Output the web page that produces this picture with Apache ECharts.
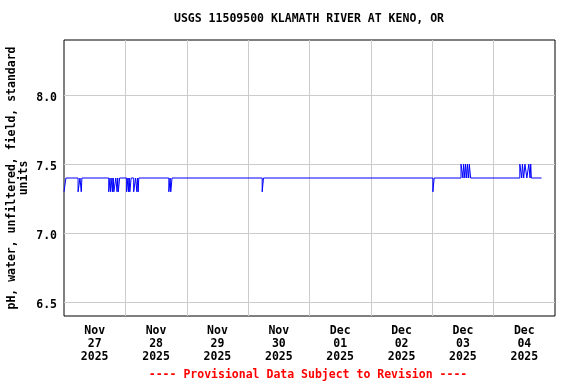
<!DOCTYPE html>
<html><head><meta charset="utf-8">
<script src="https://cdn.jsdelivr.net/npm/echarts@6/dist/echarts.min.js"></script>
<style>html,body{margin:0;padding:0;background:#fff}#c{width:576px;height:384px}</style>
</head><body><div id="c"></div>
<script>
const titleText = 'USGS 11509500 KLAMATH RIVER AT KENO, OR';
const yAxisName = 'pH, water, unfiltered, field, standard\nunits';
const footerText = '---- Provisional Data Subject to Revision ----';
const startTime = '2025-11-27T00:00';
const endTime = '2025-12-05T00:00';
const dayLabels = ['Nov\n27\n2025','Nov\n28\n2025','Nov\n29\n2025','Nov\n30\n2025','Dec\n01\n2025','Dec\n02\n2025','Dec\n03\n2025','Dec\n04\n2025'];
const yTicks = [6.5, 7.0, 7.5, 8.0];
const yLabels = ['6.5', '7.0', '7.5', '8.0'];
// change points of the pH record (value holds until next time)
const times = [
 '2025-11-27T00:00','2025-11-27T00:45','2025-11-27T05:30','2025-11-27T06:15','2025-11-27T06:45','2025-11-27T07:00',
 '2025-11-27T17:30','2025-11-27T18:00','2025-11-27T18:15','2025-11-27T18:45','2025-11-27T19:00','2025-11-27T19:15',
 '2025-11-27T19:30','2025-11-27T20:15','2025-11-27T20:45','2025-11-27T21:00','2025-11-27T21:15','2025-11-27T21:45',
 '2025-11-28T00:30','2025-11-28T01:00','2025-11-28T01:15','2025-11-28T01:30','2025-11-28T01:45','2025-11-28T02:15',
 '2025-11-28T03:15','2025-11-28T04:00','2025-11-28T04:30','2025-11-28T04:45','2025-11-28T05:00','2025-11-28T05:15',
 '2025-11-28T17:00','2025-11-28T17:30','2025-11-28T17:45','2025-11-28T18:15',
 '2025-11-30T05:30','2025-11-30T06:00',
 '2025-12-03T00:15','2025-12-03T00:45',
 '2025-12-03T11:15','2025-12-03T12:00','2025-12-03T12:15','2025-12-03T12:45','2025-12-03T13:00','2025-12-03T13:30',
 '2025-12-03T13:45','2025-12-03T14:15','2025-12-03T14:30','2025-12-03T15:00',
 '2025-12-04T10:15','2025-12-04T11:00','2025-12-04T11:15','2025-12-04T11:45','2025-12-04T12:15','2025-12-04T13:00',
 '2025-12-04T13:45','2025-12-04T14:15','2025-12-04T14:30','2025-12-04T14:45',
 '2025-12-04T18:45'
];
const values = [
 7.3,7.4,7.3,7.4,7.3,7.4,
 7.3,7.4,7.3,7.4,7.3,7.4,
 7.3,7.4,7.3,7.4,7.3,7.4,
 7.3,7.4,7.3,7.4,7.3,7.4,
 7.3,7.4,7.3,7.4,7.3,7.4,
 7.3,7.4,7.3,7.4,
 7.3,7.4,
 7.3,7.4,
 7.5,7.4,7.5,7.4,7.5,7.4,
 7.5,7.4,7.5,7.4,
 7.5,7.4,7.5,7.4,7.5,7.4,
 7.5,7.4,7.5,7.4,
 7.4
];

const t0 = new Date(startTime).getTime();
const toH = t => (new Date(t).getTime() - t0) / 3600000;
const totalH = toH(endTime);
const gridH = [], labelH = [];
for (let i = 1; i < dayLabels.length; i++) gridH.push(i * 24);
for (let i = 0; i < dayLabels.length; i++) labelH.push(i * 24 + 12);
const data = times.map((t, i) => [toH(t), values[i]]);

const font = '"DejaVu Sans Mono", "Liberation Mono", monospace';
const chart = echarts.init(document.getElementById('c'), null, {renderer: 'canvas'});
chart.setOption({
  animation: false,
  backgroundColor: '#fff',
  grid: {left: 64, right: 21, top: 40, bottom: 68, show: true, borderColor: '#000', borderWidth: 1, containLabel: false, outerBoundsMode: 'none'},
  graphic: [
    {type: 'text', x: 309, y: 19.5, style: {text: titleText, font: 'bold 11.5px ' + font, fill: '#000', textAlign: 'center', textVerticalAlign: 'middle'}},
    {type: 'text', x: 308, y: 375, style: {text: footerText, font: 'bold 11.5px ' + font, fill: '#ff0000', textAlign: 'center', textVerticalAlign: 'middle'}}
  ],
  xAxis: {
    type: 'value', min: 0, max: totalH,
    axisLine: {show: false},
    axisTick: {show: false, customValues: gridH},
    splitLine: {show: true, lineStyle: {color: '#cccccc', width: 1}},
    axisLabel: {
      customValues: labelH, margin: 9,
      formatter: v => dayLabels[Math.round((v - 12) / 24)] || '',
      fontFamily: font, fontWeight: 'bold', fontSize: 11.5, color: '#000', lineHeight: 13
    }
  },
  yAxis: {
    type: 'value', min: 6.4, max: 8.4,
    name: yAxisName, nameLocation: 'middle', nameRotate: 90, nameGap: 46, nameMoveOverlap: false,
    nameTextStyle: {fontFamily: font, fontWeight: 'bold', fontSize: 11.5, color: '#000', lineHeight: 12, align: 'center', verticalAlign: 'middle'},
    axisLine: {show: false},
    axisTick: {show: false, customValues: yTicks},
    splitLine: {show: true, lineStyle: {color: '#cccccc', width: 1}},
    axisLabel: {
      customValues: yTicks, margin: 7,
      formatter: v => { const i = yTicks.findIndex(x => Math.abs(x - v) < 1e-6); return i >= 0 ? '{a|' + yLabels[i] + '}' : ''; },
      rich: {a: {fontFamily: font, fontWeight: 'bold', fontSize: 11.5, color: '#000', padding: [5, 0, 0, 0]}},
      fontFamily: font, fontWeight: 'bold', fontSize: 11.5, color: '#000'
    }
  },
  series: [{
    type: 'line', step: 'end', data: data, showSymbol: false, symbol: 'none',
    lineStyle: {color: '#0000ff', width: 1}, itemStyle: {color: '#0000ff'}
  }]
});
</script></body></html>
